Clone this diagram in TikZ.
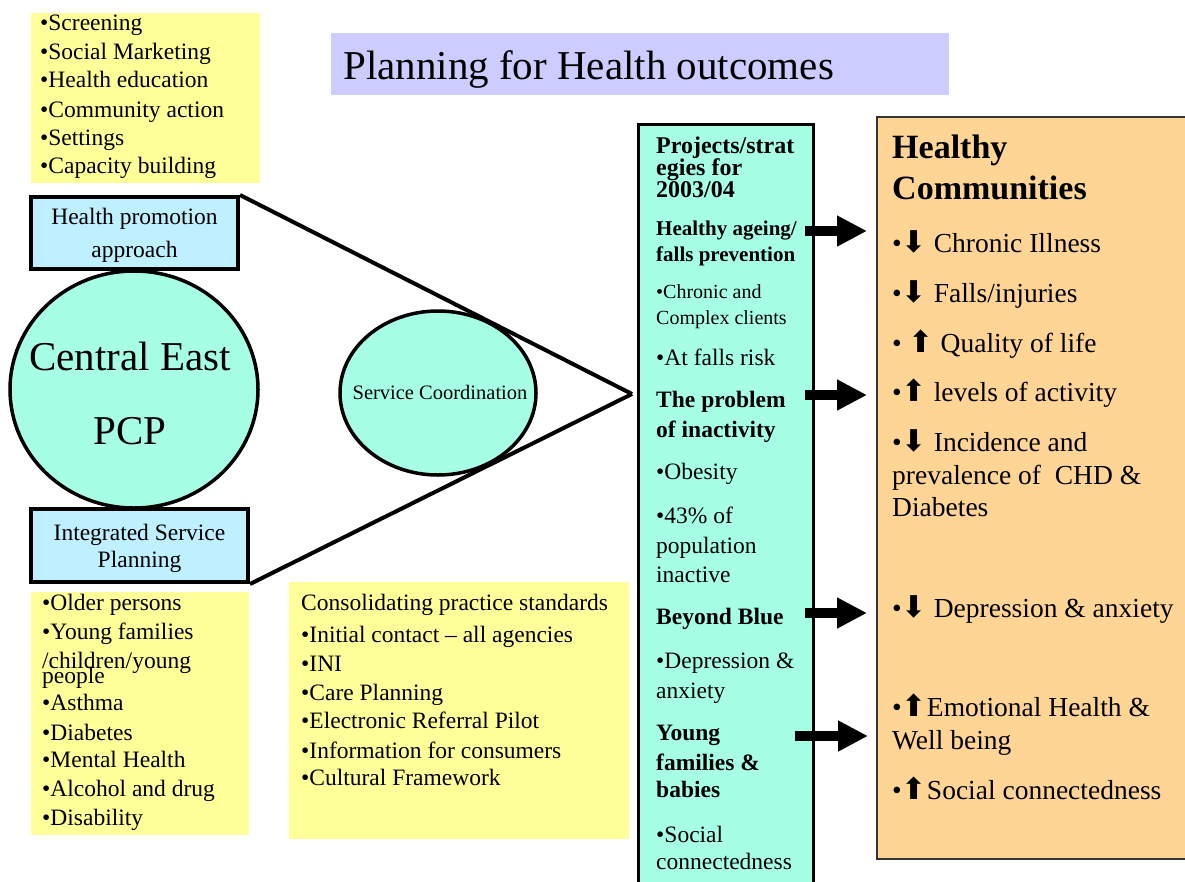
\documentclass[tikz,border=0pt]{standalone}
\usepackage{fontspec}
\setmainfont{Liberation Serif}
\newfontfamily\symfont{DejaVu Sans}
\usetikzlibrary{arrows.meta,shapes.geometric}
\definecolor{pale}{HTML}{FFFF99}
\definecolor{lilac}{HTML}{CCCCFF}
\definecolor{sky}{HTML}{BFF0FF}
\definecolor{mint}{HTML}{A6FFE5}
\definecolor{peach}{HTML}{FFD596}
\newcommand{\dnarrow}{{\symfont\fontsize{30}{30}\selectfont ⬇}}
\newcommand{\uparr}{{\symfont\fontsize{30}{30}\selectfont ⬆}}
\begin{document}
\begin{tikzpicture}[x=1pt,y=-1pt,
    txt/.style={anchor=base west,inner sep=0pt,yshift={-0.33*#1pt},
      font=\fontsize{#1}{#1}\selectfont},
    txt/.default=23.5,
    btxt/.style={txt=#1,font=\fontsize{#1}{#1}\selectfont\bfseries},
    btxt/.default=23.5,
    ctxt/.style={txt=#1,anchor=base},
    fat/.style={line width=10pt,-{Triangle[length=30pt,width=29pt]}}]
    \useasboundingbox (0,0) rectangle (1185,881);
    % boxes
    \node[fill=pale,inner sep=0pt,minimum width=229pt,minimum height=170pt] (tools) at (145.5,98) {};
    \node[fill=lilac,inner sep=0pt,minimum width=618pt,minimum height=62pt] (titlebox) at (640,64) {};
    \node[fill=pale,inner sep=0pt,minimum width=218pt,minimum height=243pt] (groups) at (140,713.5) {};
    \node[fill=pale,inner sep=0pt,minimum width=340pt,minimum height=257pt] (standards) at (459,710) {};
    \node[draw,line width=4pt,fill=sky,inner sep=0pt,minimum width=207pt,minimum height=72pt] (hpa) at (134.5,233) {};
    \node[draw,line width=4pt,fill=sky,inner sep=0pt,minimum width=217pt,minimum height=73pt] (isp) at (139.5,545.5) {};
    \node[ellipse,draw,line width=3.5pt,fill=mint,inner sep=0pt,minimum width=248pt,minimum height=237pt] (pcp) at (134,389.5) {};
    \node[ellipse,draw,line width=3.5pt,fill=mint,inner sep=0pt,minimum width=196pt,minimum height=164pt] (coord) at (438,393) {};
    \node[draw,line width=3pt,fill=mint,inner sep=0pt,minimum width=175pt,minimum height=790pt] (proj) at (725.5,519) {};
    \node[draw=black!80,line width=2pt,fill=peach,inner sep=0pt,minimum width=320pt,minimum height=742pt] (hc) at (1037,488) {};

    % lines into the projects column
    \coordinate (focus) at (632,394);
    \draw[line width=4pt] (hpa.north east) -- (focus);
    \draw[line width=4pt] (isp.south east) -- (focus);

    % title
    \node[txt=41] (title) at (343,66) {Planning for Health outcomes};

    % health promotion tools
    \node[txt] (t1) at (40,23) {•Screening};
    \node[txt] (t2) at (40,52) {•Social Marketing};
    \node[txt] (t3) at (40,80) {•Health education};
    \node[txt] (t4) at (40,110) {•Community action};
    \node[txt] (t5) at (40,138) {•Settings};
    \node[txt] (t6) at (40,166) {•Capacity building};

    \node[ctxt=23.5] (hpa1) at (134.5,217) {Health promotion};
    \node[ctxt=23.5] (hpa2) at (134.5,250) {approach};
    \node[ctxt=41] (pcp1) at (130,357) {Central East};
    \node[ctxt=41] (pcp2) at (130,431) {PCP};
    \node[ctxt=20.5] (coord1) at (440,393) {Service Coordination};
    \node[ctxt=23.5] (isp1) at (139.5,533) {Integrated Service};
    \node[ctxt=23.5] (isp2) at (139.5,560) {Planning};

    % target groups
    \node[txt] (g1) at (42,603) {•Older persons};
    \node[txt] (g2) at (42,632) {•Young families};
    \node[txt] (g3) at (42,661) {/children/young};
    \node[txt] (g4) at (42,676) {people};
    \node[txt] (g5) at (42,703) {•Asthma};
    \node[txt] (g6) at (42,733) {•Diabetes};
    \node[txt] (g7) at (42,760) {•Mental Health};
    \node[txt] (g8) at (42,789) {•Alcohol and drug};
    \node[txt] (g9) at (42,818) {•Disability};

    % practice standards
    \node[txt] (s0) at (301,603) {Consolidating practice standards};
    \node[txt] (s1) at (301,635) {•Initial contact – all agencies};
    \node[txt] (s2) at (301,664) {•INI};
    \node[txt] (s3) at (301,693) {•Care Planning};
    \node[txt] (s4) at (301,721) {•Electronic Referral Pilot};
    \node[txt] (s5) at (301,751) {•Information for consumers};
    \node[txt] (s6) at (301,778) {•Cultural Framework};

    % projects column
    \node[btxt=24] (p1) at (656,146) {Projects/strat};
    \node[btxt=24] (p2) at (656,168) {egies for};
    \node[btxt=24] (p3) at (656,190) {2003/04};
    \node[btxt=21] (age1) at (656,229) {Healthy ageing/};
    \node[btxt=21] (age2) at (656,255) {falls prevention};
    \node[txt=20] (age3) at (656,292) {•Chronic and};
    \node[txt=20] (age4) at (656,318) {Complex clients};
    \node[txt] (age5) at (656,358) {•At falls risk};
    \node[btxt] (inact1) at (656,400) {The problem};
    \node[btxt] (inact2) at (656,430) {of inactivity};
    \node[txt] (inact3) at (656,472) {•Obesity};
    \node[txt] (inact4) at (656,516) {•43\% of};
    \node[txt] (inact5) at (656,546) {population};
    \node[txt] (inact6) at (656,575) {inactive};
    \node[btxt] (blue1) at (656,617) {Beyond Blue};
    \node[txt] (blue2) at (656,661) {•Depression \&};
    \node[txt] (blue3) at (656,691) {anxiety};
    \node[btxt] (fam1) at (656,733) {Young};
    \node[btxt] (fam2) at (656,763) {families \&};
    \node[btxt] (fam3) at (656,790) {babies};
    \node[txt] (fam4) at (656,835) {•Social};
    \node[txt] (fam5) at (656,862) {connectedness};

    % healthy communities
    \node[btxt=34] (h1) at (892,147) {Healthy};
    \node[btxt=34] (h2) at (892,188) {Communities};
    \node[txt=27.5] (o1) at (892,243) {•\dnarrow\ Chronic Illness};
    \node[txt=27.5] (o2) at (892,293) {•\dnarrow\ Falls/injuries};
    \node[txt=27.5] (o3) at (892,343) {• \uparr\ Quality of life};
    \node[txt=27.5] (o4) at (892,392) {•\uparr\ levels of activity};
    \node[txt=27.5] (o5) at (892,442) {•\dnarrow\ Incidence and};
    \node[txt=27.5] (o6) at (892,475) {prevalence of~ CHD \&};
    \node[txt=27.5] (o7) at (892,507) {Diabetes};
    \node[txt=27.5] (o8) at (892,608) {•\dnarrow\ Depression \& anxiety};
    \node[txt=27.5] (o9) at (892,707) {•\uparr Emotional Health \&};
    \node[txt=27.5] (o10) at (892,740) {Well being};
    \node[txt=27.5] (o11) at (892,790) {•\uparr Social connectedness};

    % arrows to outcomes
    \coordinate (a1) at (805,231);
    \coordinate (b1) at (867,231);
    \coordinate (a2) at (805,395);
    \coordinate (b2) at (867,395);
    \coordinate (a3) at (805,613);
    \coordinate (b3) at (867,613);
    \coordinate (a4) at (795,736);
    \coordinate (b4) at (868,736);
    \draw[fat] (a1) -- (b1);
    \draw[fat] (a2) -- (b2);
    \draw[fat] (a3) -- (b3);
    \draw[fat] (a4) -- (b4);
\end{tikzpicture}
\end{document}
